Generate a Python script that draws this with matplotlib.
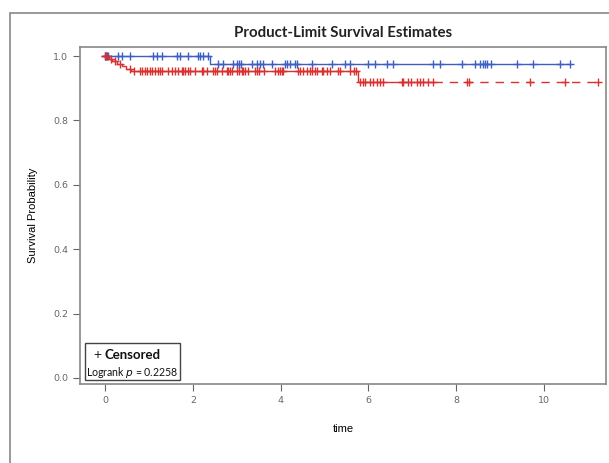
import numpy as np
import matplotlib
matplotlib.use("Agg")
import matplotlib.pyplot as plt
from matplotlib.patches import Rectangle

# ========= Data =========
# blue group: one event, then censored only
blue_event_t = [2.40]
blue_event_s = [0.976]
blue_cens = [0.0, 0.02, 0.05, 0.07, 0.30, 0.39, 0.57, 1.09, 1.18, 1.30, 1.64, 1.71,
             1.89, 2.12, 2.16, 2.23, 2.35,
             2.57, 2.69, 2.92, 3.01, 3.05, 3.10, 3.35, 3.46, 3.53, 3.60, 3.80, 4.10,
             4.15, 4.21, 4.33, 4.37, 4.71, 5.17, 5.47, 5.58, 5.99, 6.15, 6.42, 6.56,
             7.47, 7.63, 8.13, 8.43, 8.54, 8.61, 8.66, 8.70, 8.79, 9.39, 9.75, 10.36,
             10.59]

# red group
red_event_t = [0.08, 0.17, 0.27, 0.38, 0.48, 0.60, 5.76]
red_event_s = [0.992, 0.984, 0.976, 0.968, 0.960, 0.952, 0.920]
red_cens = [0.0, 0.03, 0.13, 0.22, 0.33, 0.57, 0.65, 0.80, 0.84, 0.91, 0.95, 1.03,
            1.06, 1.14, 1.21, 1.25, 1.29, 1.44, 1.52, 1.59, 1.67, 1.75, 1.78, 1.82,
            1.90, 1.94, 2.05, 2.20, 2.24, 2.32, 2.47, 2.51, 2.54, 2.66, 2.77, 2.81,
            2.85, 2.89, 3.00, 3.04, 3.11, 3.15, 3.19, 3.26, 3.42, 3.46, 3.50, 3.61,
            3.87, 3.95, 3.99, 4.02, 4.06, 4.40, 4.44, 4.52, 4.59, 4.67, 4.71, 4.78,
            4.82, 4.94, 4.97, 5.05, 5.13, 5.31, 5.35, 5.58, 5.66, 5.72,
            5.81, 5.88, 5.92, 6.04, 6.11, 6.19, 6.26, 6.34, 6.76, 6.79, 6.91, 6.98,
            7.10, 7.18, 7.25, 7.36, 7.48, 8.24, 8.28, 9.68, 10.48, 11.23]
red_dash_from = 7.5

logrank_p = "0.2258"

BLUE = "#3d5fc4"
RED = "#d93030"
GRAY = "#666666"
NARROW = ["Lato", "DejaVu Sans"]


def km_curve(ev_t, ev_s, t_end):
    t = [0.0] + list(ev_t) + [t_end]
    s = [1.0] + list(ev_s) + [ev_s[-1]]
    return np.array(t), np.array(s)


def surv_at(ev_t, ev_s, x):
    s = 1.0
    for t, v in zip(ev_t, ev_s):
        if x >= t:
            s = v
    return s


fig = plt.figure(figsize=(6.09, 4.63), dpi=100)
ax = fig.add_axes([80 / 609, 1 - 384 / 463, 526 / 609, 337 / 463])

# outer frame
fig.add_artist(Rectangle((10 / 609, -0.1), 1.2, 1 - 13 / 463 + 0.1,
                         transform=fig.transFigure, fill=False,
                         edgecolor="#888888", linewidth=1.2))

# blue curve
bt, bs = km_curve(blue_event_t, blue_event_s, max(blue_cens))
ax.step(bt, bs, where="post", color=BLUE, lw=1)
ax.plot(blue_cens, [surv_at(blue_event_t, blue_event_s, c) for c in blue_cens],
        ls="none", marker="+", ms=5.5, mew=1, color=BLUE)

# red curve: solid then dashed
rt, rs = km_curve(red_event_t, red_event_s, max(red_cens))
solid = rt <= red_dash_from
rt1 = np.append(rt[solid], red_dash_from)
rs1 = np.append(rs[solid], surv_at(red_event_t, red_event_s, red_dash_from))
ax.step(rt1, rs1, where="post", color=RED, lw=1)
ax.plot([red_dash_from, max(red_cens)], [red_event_s[-1]] * 2,
        color=RED, lw=1, dashes=(6, 5))
ax.plot(red_cens, [surv_at(red_event_t, red_event_s, c) for c in red_cens],
        ls="none", marker="+", ms=5.5, mew=1, color=RED)

ax.set_xlim(-0.57, 11.41)
ax.set_ylim(-0.019, 1.028)
ax.set_xticks([0, 2, 4, 6, 8, 10])
ax.set_yticks([0.0, 0.2, 0.4, 0.6, 0.8, 1.0])
ax.set_yticklabels(["0.0", "0.2", "0.4", "0.6", "0.8", "1.0"])
ax.tick_params(direction="out", length=5, width=0.8, color=GRAY,
               labelsize=6.8, labelcolor="#666666")
for sp in ax.spines.values():
    sp.set_color("#888888")
    sp.set_linewidth(1.2)

ax.set_xlabel("time", fontsize=8, family="Liberation Sans", labelpad=14)
ax.set_ylabel("Survival Probability", fontsize=8, family="Liberation Sans", labelpad=11)
ax.set_title("Product-Limit Survival Estimates", fontsize=10.8, fontweight="bold",
             family=NARROW, color="#222222", pad=7)

# censored / logrank box
fig.add_artist(Rectangle((85 / 609, 1 - 380 / 463), 95 / 609, 37 / 463,
                         transform=fig.transFigure, facecolor="white",
                         edgecolor="#444444", linewidth=1))
fig.text(101 / 609, 1 - 354 / 463, "+", fontsize=10, color="#222222",
         ha="right", va="center_baseline", family="Liberation Sans")
fig.text(104 / 609, 1 - 354 / 463, "Censored", fontsize=9.5, fontweight="bold",
         family=NARROW, color="#111111", ha="left", va="center_baseline")
fig.text(132 / 609, 1 - 372 / 463, "Logrank $\\it{p}$ = " + logrank_p, fontsize=7.6,
         family=NARROW, color="#111111", ha="center", va="center")

fig.savefig("out.png", dpi=100)
